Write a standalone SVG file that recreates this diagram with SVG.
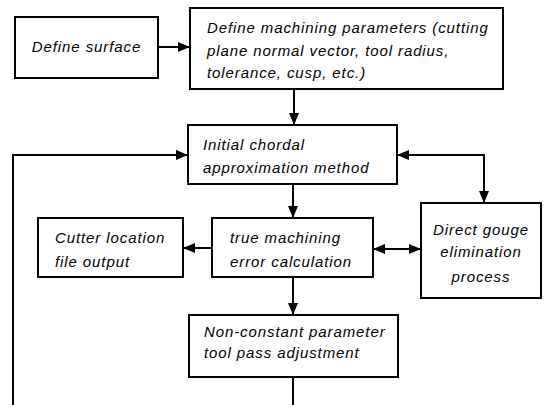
<svg xmlns="http://www.w3.org/2000/svg" width="546" height="405" viewBox="0 0 546 405">
<defs>
<marker id="ah" markerWidth="12" markerHeight="10" refX="11" refY="5" orient="auto-start-reverse" markerUnits="userSpaceOnUse">
<path d="M0,0 L12,5 L0,10 Z" fill="#000"/>
</marker>
</defs>
<style>
rect{fill:#fff;stroke:#000;stroke-width:2}
text{font-family:"Liberation Sans",Arial,sans-serif;font-style:italic;font-size:15px;letter-spacing:0.9px;fill:#000}
.c{text-anchor:middle}
#connectors path{fill:none;stroke:#000;stroke-width:2}
</style>
<rect width="546" height="405" style="stroke:none"/>
<g id="connectors">
<path d="M158,47 H189" marker-end="url(#ah)"/>
<path d="M294,90 V124" marker-end="url(#ah)"/>
<path d="M13,405 V155 H187" marker-end="url(#ah)"/>
<path d="M398,155 H484 V202" marker-start="url(#ah)" marker-end="url(#ah)"/>
<path d="M293,184 V217" marker-end="url(#ah)"/>
<path d="M212,248 H184" marker-end="url(#ah)"/>
<path d="M374,249 H420" marker-start="url(#ah)" marker-end="url(#ah)"/>
<path d="M293,277 V314" marker-end="url(#ah)"/>
<path d="M293,377 V405"/>
</g>
<g id="define-surface">
<rect x="15" y="17" width="143" height="61"/>
<text x="86.5" y="52" class="c">Define surface</text>
</g>
<g id="define-params">
<rect x="190" y="8" width="313" height="81"/>
<text x="207" y="33">Define machining parameters (cutting</text>
<text x="207" y="56">plane normal vector, tool radius,</text>
<text x="207" y="78">tolerance, cusp, etc.)</text>
</g>
<g id="initial-chordal">
<rect x="188" y="125" width="209" height="59"/>
<text x="203" y="150">Initial chordal</text>
<text x="203" y="173">approximation method</text>
</g>
<g id="cutter-location">
<rect x="38" y="218" width="145" height="59"/>
<text x="55" y="243">Cutter location</text>
<text x="55" y="267">file output</text>
</g>
<g id="true-error">
<rect x="212" y="218" width="161" height="59"/>
<text x="230" y="243">true machining</text>
<text x="230" y="267">error calculation</text>
</g>
<g id="direct-gouge">
<rect x="421" y="203" width="120" height="95"/>
<text x="481" y="235" class="c">Direct gouge</text>
<text x="481" y="257" class="c">elimination</text>
<text x="481" y="282" class="c">process</text>
</g>
<g id="non-constant">
<rect x="189" y="315" width="209" height="62"/>
<text x="204" y="337">Non-constant parameter</text>
<text x="204" y="358">tool pass adjustment</text>
</g>
</svg>
